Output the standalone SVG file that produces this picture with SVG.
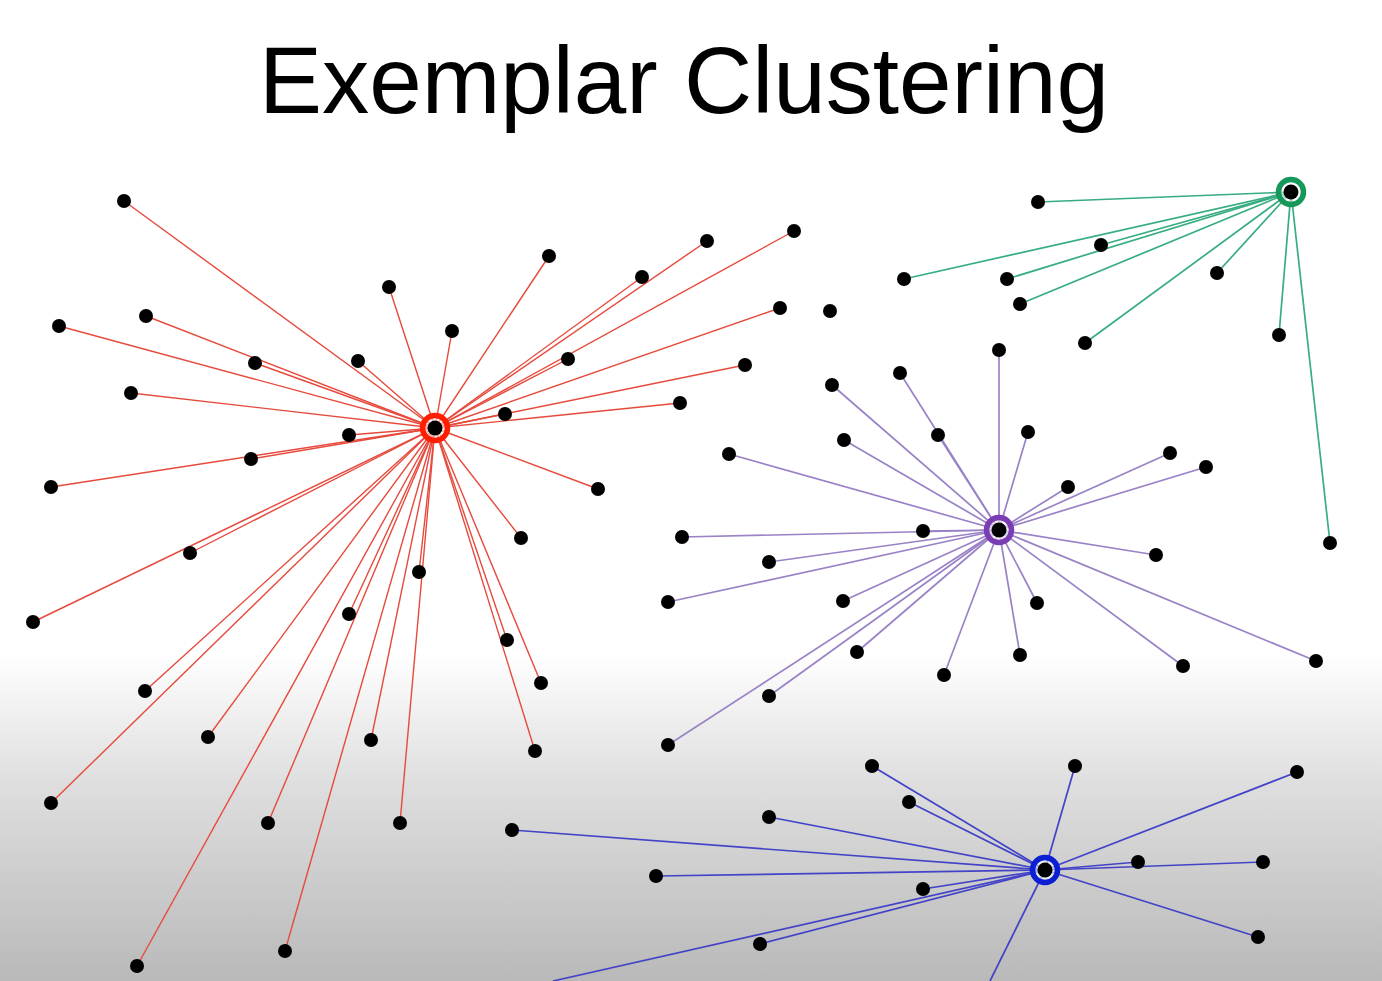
<svg xmlns="http://www.w3.org/2000/svg" width="1382" height="981" viewBox="0 0 1382 981">
<defs>
<linearGradient id="bg" x1="0" y1="0" x2="0" y2="981" gradientUnits="userSpaceOnUse">
<stop offset="0" stop-color="#ffffff"/>
<stop offset="0.665" stop-color="#ffffff"/>
<stop offset="0.8" stop-color="#dedede"/>
<stop offset="1" stop-color="#b9b9b9"/>
</linearGradient>
</defs>
<style>
.title{font-family:"Liberation Sans","Open Sans",sans-serif;font-size:95px;fill:#000}
.r line{stroke:#e64a3c;stroke-width:1.4}
.p line{stroke:#9a82c6;stroke-width:1.7}
.g line{stroke:#37ad80;stroke-width:1.7}
.b line{stroke:#4343c8;stroke-width:1.7}
.n circle{fill:#000}
.n circle.ex{fill:#fff;fill-opacity:0.55;stroke-width:5.5}
</style>
<rect x="0" y="0" width="1382" height="981" fill="url(#bg)"/>
<text class="title" x="684" y="113" text-anchor="middle" textLength="850" lengthAdjust="spacingAndGlyphs">Exemplar Clustering</text>
<g id="connectors">
<g class="r">
<line x1="435" y1="428" x2="124" y2="201"/>
<line x1="435" y1="428" x2="59" y2="326"/>
<line x1="435" y1="428" x2="146" y2="316"/>
<line x1="435" y1="428" x2="255" y2="363"/>
<line x1="435" y1="428" x2="131" y2="393"/>
<line x1="435" y1="428" x2="358" y2="361"/>
<line x1="435" y1="428" x2="389" y2="287"/>
<line x1="435" y1="428" x2="452" y2="331"/>
<line x1="435" y1="428" x2="349" y2="435"/>
<line x1="435" y1="428" x2="251" y2="459"/>
<line x1="435" y1="428" x2="51" y2="487"/>
<line x1="435" y1="428" x2="549" y2="256"/>
<line x1="435" y1="428" x2="642" y2="277"/>
<line x1="435" y1="428" x2="707" y2="241"/>
<line x1="435" y1="428" x2="794" y2="231"/>
<line x1="435" y1="428" x2="568" y2="359"/>
<line x1="435" y1="428" x2="780" y2="308"/>
<line x1="435" y1="428" x2="745" y2="365"/>
<line x1="435" y1="428" x2="505" y2="414"/>
<line x1="435" y1="428" x2="680" y2="403"/>
<line x1="435" y1="428" x2="598" y2="489"/>
<line x1="435" y1="428" x2="521" y2="538"/>
<line x1="435" y1="428" x2="190" y2="553"/>
<line x1="435" y1="428" x2="33" y2="622"/>
<line x1="435" y1="428" x2="419" y2="572"/>
<line x1="435" y1="428" x2="349" y2="614"/>
<line x1="435" y1="428" x2="507" y2="640"/>
<line x1="435" y1="428" x2="541" y2="683"/>
<line x1="435" y1="428" x2="145" y2="691"/>
<line x1="435" y1="428" x2="208" y2="737"/>
<line x1="435" y1="428" x2="371" y2="740"/>
<line x1="435" y1="428" x2="535" y2="751"/>
<line x1="435" y1="428" x2="51" y2="803"/>
<line x1="435" y1="428" x2="268" y2="823"/>
<line x1="435" y1="428" x2="400" y2="823"/>
<line x1="435" y1="428" x2="137" y2="966"/>
<line x1="435" y1="428" x2="285" y2="951"/>
</g>
<g class="p">
<line x1="999" y1="530" x2="999" y2="350"/>
<line x1="999" y1="530" x2="832" y2="385"/>
<line x1="999" y1="530" x2="900" y2="373"/>
<line x1="999" y1="530" x2="938" y2="435"/>
<line x1="999" y1="530" x2="1028" y2="432"/>
<line x1="999" y1="530" x2="844" y2="440"/>
<line x1="999" y1="530" x2="729" y2="454"/>
<line x1="999" y1="530" x2="1170" y2="453"/>
<line x1="999" y1="530" x2="1206" y2="467"/>
<line x1="999" y1="530" x2="1068" y2="487"/>
<line x1="999" y1="530" x2="682" y2="537"/>
<line x1="999" y1="530" x2="923" y2="531"/>
<line x1="999" y1="530" x2="769" y2="562"/>
<line x1="999" y1="530" x2="1156" y2="555"/>
<line x1="999" y1="530" x2="668" y2="602"/>
<line x1="999" y1="530" x2="843" y2="601"/>
<line x1="999" y1="530" x2="1037" y2="603"/>
<line x1="999" y1="530" x2="857" y2="652"/>
<line x1="999" y1="530" x2="1020" y2="655"/>
<line x1="999" y1="530" x2="944" y2="675"/>
<line x1="999" y1="530" x2="1183" y2="666"/>
<line x1="999" y1="530" x2="1316" y2="661"/>
<line x1="999" y1="530" x2="769" y2="696"/>
<line x1="999" y1="530" x2="668" y2="745"/>
</g>
<g class="g">
<line x1="1291" y1="192" x2="1038" y2="202"/>
<line x1="1291" y1="192" x2="1101" y2="245"/>
<line x1="1291" y1="192" x2="904" y2="279"/>
<line x1="1291" y1="192" x2="1007" y2="279"/>
<line x1="1291" y1="192" x2="1020" y2="304"/>
<line x1="1291" y1="192" x2="1217" y2="273"/>
<line x1="1291" y1="192" x2="1085" y2="343"/>
<line x1="1291" y1="192" x2="1279" y2="335"/>
<line x1="1291" y1="192" x2="1330" y2="543"/>
</g>
<g class="b">
<line x1="1045" y1="870" x2="872" y2="766"/>
<line x1="1045" y1="870" x2="909" y2="802"/>
<line x1="1045" y1="870" x2="1075" y2="766"/>
<line x1="1045" y1="870" x2="1297" y2="772"/>
<line x1="1045" y1="870" x2="769" y2="817"/>
<line x1="1045" y1="870" x2="512" y2="830"/>
<line x1="1045" y1="870" x2="656" y2="876"/>
<line x1="1045" y1="870" x2="1138" y2="862"/>
<line x1="1045" y1="870" x2="1263" y2="862"/>
<line x1="1045" y1="870" x2="923" y2="889"/>
<line x1="1045" y1="870" x2="1258" y2="937"/>
<line x1="1045" y1="870" x2="760" y2="944"/>
<line x1="1045" y1="870" x2="553" y2="981"/>
<line x1="1045" y1="870" x2="990" y2="981"/>
</g>
</g>
<g id="nodes" class="n">
<g id="red-points">
<circle cx="124" cy="201" r="7"/><circle cx="59" cy="326" r="7"/><circle cx="146" cy="316" r="7"/><circle cx="255" cy="363" r="7"/>
<circle cx="131" cy="393" r="7"/><circle cx="358" cy="361" r="7"/><circle cx="389" cy="287" r="7"/><circle cx="452" cy="331" r="7"/>
<circle cx="349" cy="435" r="7"/><circle cx="251" cy="459" r="7"/><circle cx="51" cy="487" r="7"/><circle cx="549" cy="256" r="7"/>
<circle cx="642" cy="277" r="7"/><circle cx="707" cy="241" r="7"/><circle cx="794" cy="231" r="7"/><circle cx="568" cy="359" r="7"/>
<circle cx="780" cy="308" r="7"/><circle cx="745" cy="365" r="7"/><circle cx="505" cy="414" r="7"/><circle cx="680" cy="403" r="7"/>
<circle cx="598" cy="489" r="7"/><circle cx="521" cy="538" r="7"/><circle cx="190" cy="553" r="7"/><circle cx="33" cy="622" r="7"/>
<circle cx="419" cy="572" r="7"/><circle cx="349" cy="614" r="7"/><circle cx="507" cy="640" r="7"/><circle cx="541" cy="683" r="7"/>
<circle cx="145" cy="691" r="7"/><circle cx="208" cy="737" r="7"/><circle cx="371" cy="740" r="7"/><circle cx="535" cy="751" r="7"/>
<circle cx="51" cy="803" r="7"/><circle cx="268" cy="823" r="7"/><circle cx="400" cy="823" r="7"/><circle cx="137" cy="966" r="7"/>
<circle cx="285" cy="951" r="7"/>
</g>
<g id="unassigned-point"><circle cx="830" cy="311" r="7"/></g>
<g id="purple-points">
<circle cx="999" cy="350" r="7"/><circle cx="832" cy="385" r="7"/><circle cx="900" cy="373" r="7"/><circle cx="938" cy="435" r="7"/>
<circle cx="1028" cy="432" r="7"/><circle cx="844" cy="440" r="7"/><circle cx="729" cy="454" r="7"/><circle cx="1170" cy="453" r="7"/>
<circle cx="1206" cy="467" r="7"/><circle cx="1068" cy="487" r="7"/><circle cx="682" cy="537" r="7"/><circle cx="923" cy="531" r="7"/>
<circle cx="769" cy="562" r="7"/><circle cx="1156" cy="555" r="7"/><circle cx="668" cy="602" r="7"/><circle cx="843" cy="601" r="7"/>
<circle cx="1037" cy="603" r="7"/><circle cx="857" cy="652" r="7"/><circle cx="1020" cy="655" r="7"/><circle cx="944" cy="675" r="7"/>
<circle cx="1183" cy="666" r="7"/><circle cx="1316" cy="661" r="7"/><circle cx="769" cy="696" r="7"/><circle cx="668" cy="745" r="7"/>
</g>
<g id="green-points">
<circle cx="1038" cy="202" r="7"/><circle cx="1101" cy="245" r="7"/><circle cx="904" cy="279" r="7"/><circle cx="1007" cy="279" r="7"/>
<circle cx="1020" cy="304" r="7"/><circle cx="1217" cy="273" r="7"/><circle cx="1085" cy="343" r="7"/><circle cx="1279" cy="335" r="7"/>
<circle cx="1330" cy="543" r="7"/>
</g>
<g id="blue-points">
<circle cx="872" cy="766" r="7"/><circle cx="909" cy="802" r="7"/><circle cx="1075" cy="766" r="7"/><circle cx="1297" cy="772" r="7"/>
<circle cx="769" cy="817" r="7"/><circle cx="512" cy="830" r="7"/><circle cx="656" cy="876" r="7"/><circle cx="1138" cy="862" r="7"/>
<circle cx="1263" cy="862" r="7"/><circle cx="923" cy="889" r="7"/><circle cx="1258" cy="937" r="7"/><circle cx="760" cy="944" r="7"/>
</g>
<g id="exemplar-red"><circle class="ex" cx="435" cy="428" r="12.5" stroke="#ff1e00"/><circle cx="435" cy="428" r="7.5"/></g>
<g id="exemplar-purple"><circle class="ex" cx="999" cy="530" r="12.5" stroke="#7a3db3"/><circle cx="999" cy="530" r="7.5"/></g>
<g id="exemplar-green"><circle class="ex" cx="1291" cy="192" r="12.5" stroke="#16985a"/><circle cx="1291" cy="192" r="7.5"/></g>
<g id="exemplar-blue"><circle class="ex" cx="1045" cy="870" r="12.5" stroke="#0a1ed2"/><circle cx="1045" cy="870" r="7.5"/></g>
</g>
</svg>
